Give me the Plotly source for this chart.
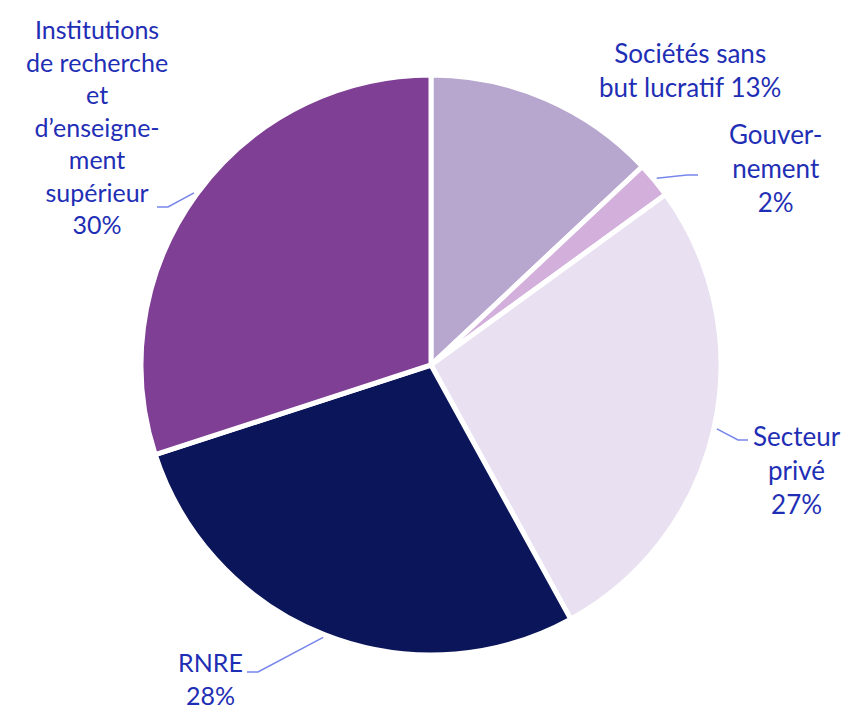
import math
import plotly.graph_objects as go

# ---- data ----
categories = ["Sociétés sans but lucratif", "Gouvernement", "Secteur privé", "RNRE",
              "Institutions de recherche et d’enseignement supérieur"]
values = [13, 2, 27, 28, 30]
label_texts = [
    "Sociétés sans<br>but lucratif 13%",
    "Gouver-<br>nement<br>2%",
    "Secteur<br>privé<br>27%",
    "RNRE<br>28%",
    "Institutions<br>de recherche<br>et<br>d’enseigne-<br>ment<br>supérieur<br>30%",
]
colors = ["#b7a7cf", "#d3afdc", "#e9e1f2", "#0b155a", "#7e3f94"]

# ---- layout constants (reference pixels; page body has an 8px margin) ----
OFF = 8
W, H = 851 - OFF, 712 - OFF


def px(x, y):
    """reference page pixel -> paper coords"""
    return (x - OFF) / W, 1 - (y - OFF) / H


CX, CY, R = 431, 365, 290
x0, y1 = px(CX - R, CY - R)
x1, y0 = px(CX + R, CY + R)
dom_x = [x0, x1]
dom_y = [y0, y1]

# label centre positions and leader elbows (reference pixels), None = no leader
label_pos = [(690, 70), (775, 168), (797, 470), (210, 678), (97, 126)]
label_sizes = [26, 26, 26, 25, 25]
elbows = [None, ((687, 175), (698, 175)), ((738, 440), (748, 440)),
          ((258, 672), (247, 672)), ((168, 207), (157, 207))]

TEXT_COLOR = "#1f2fb5"
LINE_COLOR = "#7887ec"
FONT = "Lato, 'Open Sans', sans-serif"

fig = go.Figure(go.Pie(
    labels=categories, values=values, sort=False, direction="clockwise", rotation=0,
    marker=dict(colors=colors, line=dict(color="white", width=5)),
    textinfo="none", hoverinfo="label+percent", showlegend=False,
    domain=dict(x=dom_x, y=dom_y),
))

total = sum(values)
cum = 0
shapes = []
annotations = []
for i, v in enumerate(values):
    mid = (cum + v / 2) / total * 2 * math.pi
    cum += v
    ex = CX + R * 1.01 * math.sin(mid)
    ey = CY - R * 1.01 * math.cos(mid)
    if elbows[i] is not None:
        (bx, by), (tx, ty) = elbows[i]
        p0, p1, p2 = px(ex, ey), px(bx, by), px(tx, ty)
        shapes.append(dict(
            type="path", xref="paper", yref="paper",
            path=f"M {p0[0]} {p0[1]} L {p1[0]} {p1[1]} L {p2[0]} {p2[1]}",
            line=dict(color=LINE_COLOR, width=1.6),
        ))
    lx, ly = px(*label_pos[i])
    annotations.append(dict(
        x=lx, y=ly, xref="paper", yref="paper", text=label_texts[i],
        showarrow=False, xanchor="center", yanchor="middle", align="center",
        font=dict(family=FONT, size=label_sizes[i], color=TEXT_COLOR),
    ))

fig.update_layout(
    width=W, height=H, margin=dict(l=0, r=0, t=0, b=0),
    paper_bgcolor="white", plot_bgcolor="white",
    shapes=shapes, annotations=annotations,
)

fig.write_html("out.html")
